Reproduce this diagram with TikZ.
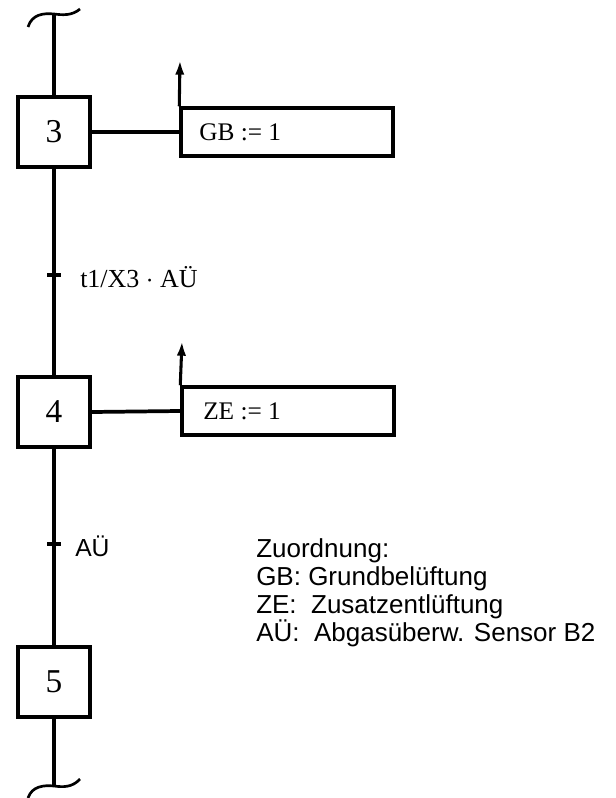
\documentclass[tikz,border=0pt]{standalone}
\usepackage{fontspec}
\setmainfont{Liberation Serif}
\newfontfamily\legendfont{Liberation Sans}
\usetikzlibrary{arrows.meta}
\begin{document}
\begin{tikzpicture}[x=0.75pt,y=-0.75pt,
  stepbox/.style={draw,line width=2.8pt,minimum width=72*0.75pt,minimum height=70*0.75pt,inner sep=0pt,font=\fontsize{25}{28}\selectfont},
  actbox/.style={draw,line width=2.6pt,minimum width=212*0.75pt,minimum height=48*0.75pt,inner sep=0pt},
  acttext/.style={anchor=west,inner sep=0pt,font=\fontsize{19}{22}\selectfont},
  flow/.style={line width=2.8pt},
  link/.style={line width=2.3pt},
  tick/.style={line width=2.5pt},
  uparrow/.style={line width=2.3pt,-{Latex[length=11pt,width=7pt]}},
  trlabel/.style={anchor=west,font=\fontsize{19.5}{22}\selectfont,inner sep=0pt},
]
\useasboundingbox (0,0) rectangle (616,798);
% steps
\node[stepbox] (s3) at (54,132) {3};
\node[stepbox] (s4) at (54,412) {4};
\node[stepbox] (s5) at (54,682) {5};
% action boxes
\node[actbox] (a3) at (287,132) {};
\node[actbox] (a4) at (288,411) {};
\node[acttext] (a3t) at (199,132) {GB := 1};
\node[acttext] (a4t) at (203,411) {ZE := 1};
\coordinate (a3tip) at (180,60);
\coordinate (a4tip) at (182,341);
\draw[uparrow] (a3.north west) -- (a3tip);
\draw[uparrow] (a4.north west) -- (a4tip);
\draw[link] (s3.east) -- (a3.west);
\draw[link,line width=2.8pt] (s4.east) -- (a4.west);
% main line
\coordinate (top) at (54,14);
\coordinate (bot) at (54,786);
\draw[flow] (top) -- (s3.north);
\draw[flow] (s3.south) -- (s4.north);
\draw[flow] (s4.south) -- (s5.north);
\draw[flow] (s5.south) -- (bot);
% wavy breaks
\draw[line width=2pt] (28,27) .. controls (32,14) and (44,13) .. (top) .. controls (62,15) and (72,16) .. (80,9);
\draw[line width=2pt] (28,798) .. controls (32,786) and (44,785) .. (bot) .. controls (62,787) and (72,788) .. (80,779);
% transitions
\coordinate (t1) at (54,275);
\coordinate (t2) at (54,544);
\draw[tick] ([xshift=-7*0.75pt]t1) -- ([xshift=7*0.75pt]t1);
\draw[tick] ([xshift=-7*0.75pt]t2) -- ([xshift=7*0.75pt]t2);
\node[trlabel] (l1) at (80,277) {t1/X3 $\cdot$ AÜ};
\node[trlabel,font=\legendfont\fontsize{18.5}{21}\selectfont] (l2) at (75,546) {AÜ};
% legend
\node[anchor=north west,align=left,inner sep=0pt,font=\legendfont\fontsize{19.5}{21}\selectfont] (leg) at (256,538)
 {Zuordnung:\\GB: Grundbelüftung\\ZE:\ \ Zusatzentlüftung\\AÜ:\ \ Abgasüberw. Sensor B2};
\end{tikzpicture}
\end{document}
